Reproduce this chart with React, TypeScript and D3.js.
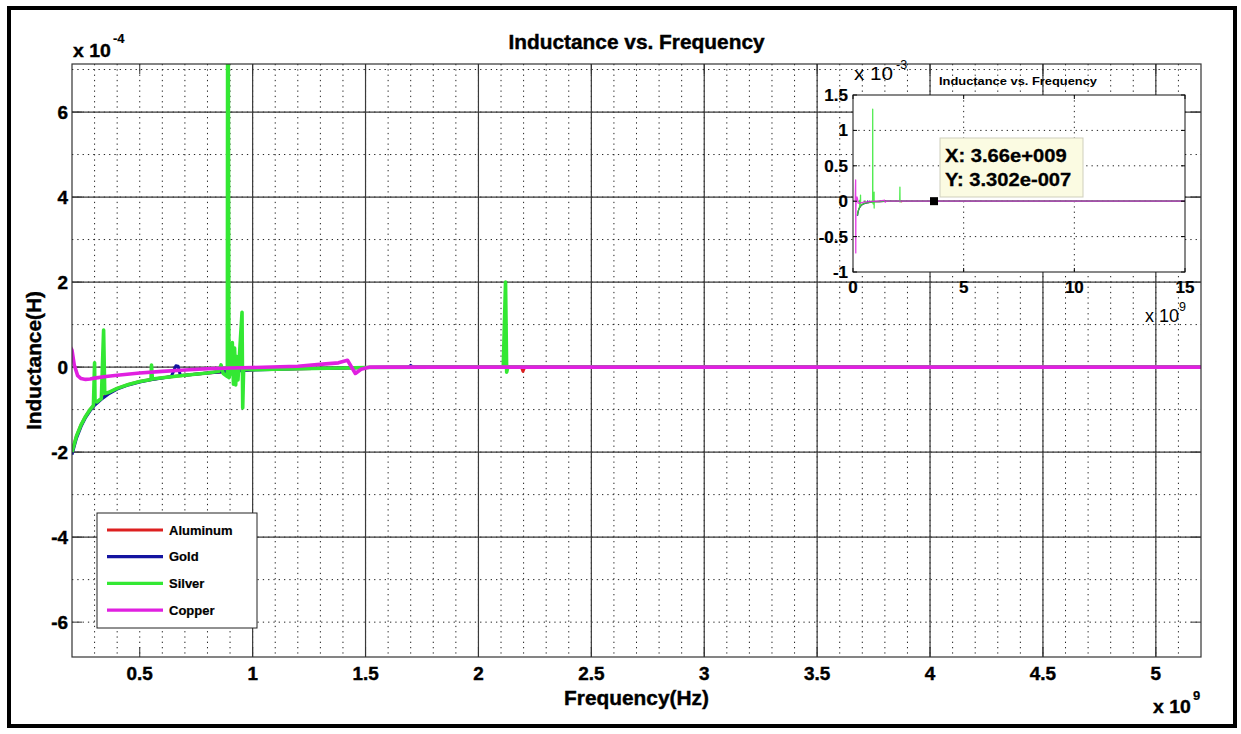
import React from 'react';
import * as d3 from 'd3';

// ---------- data (frequency in units of 1e9 Hz, inductance in units of 1e-4 H) ----------
const aluminumF = [0.2, 0.22, 0.24, 0.26, 0.28, 0.3, 0.33, 0.36, 0.4, 0.45, 0.5, 0.55, 0.6, 0.7, 0.8, 0.9, 1.0, 1.2, 1.4, 1.5, 1.8, 2.19, 2.197, 2.205, 3.0, 5.2, 15];
const aluminumL = [-2.0, -1.62, -1.36, -1.16, -1.0, -0.88, -0.74, -0.62, -0.5, -0.41, -0.34, -0.29, -0.25, -0.19, -0.14, -0.1, -0.06, -0.04, -0.02, -0.01, 0.0, 0.0, -0.1, 0.0, 0.0, 0.0, 0.0];

const goldF = [0.2, 0.22, 0.24, 0.26, 0.28, 0.3, 0.33, 0.36, 0.4, 0.45, 0.5, 0.55, 0.6, 0.64, 0.66, 0.67, 0.68, 0.7, 0.8, 0.9, 1.0, 1.2, 1.4, 1.5, 1.69, 1.7, 1.71, 5.2, 15];
const goldL = [-2.06, -1.67, -1.4, -1.19, -1.03, -0.9, -0.76, -0.64, -0.52, -0.42, -0.35, -0.3, -0.26, -0.22, 0.03, 0.02, -0.2, -0.19, -0.14, -0.1, -0.07, -0.04, -0.02, -0.01, 0.0, 0.04, 0.0, 0.0, 0.0];

const silverF = [0.2, 0.22, 0.24, 0.26, 0.28, 0.295, 0.3, 0.302, 0.31, 0.33, 0.34, 0.345, 0.36, 0.4, 0.45, 0.5, 0.55, 0.552, 0.556, 0.6, 0.7, 0.8, 0.85, 0.86, 0.87, 0.888, 0.89, 0.895, 0.905, 0.91, 0.915, 0.92, 0.925, 0.93, 0.935, 0.953, 0.956, 0.96, 1.0, 1.2, 1.4, 1.5, 1.8, 2.11, 2.12, 2.125, 2.13, 3.0, 5.2, 15];
const silverL = [-2.0, -1.62, -1.36, -1.16, -1.0, -0.9, 0.1, -0.8, -0.82, -0.74, 0.87, -0.62, -0.6, -0.5, -0.41, -0.34, -0.29, 0.05, -0.28, -0.25, -0.19, -0.14, -0.1, 0.05, -0.15, -0.22, 13.0, -0.25, -0.05, 0.58, -0.4, 0.45, -0.42, 0.25, -0.3, 1.29, -0.96, -0.05, -0.06, -0.04, -0.02, -0.01, 0.0, 0.0, 2.0, -0.12, 0.0, 0.0, 0.0, 0.0];

const copperF = [0.1, 0.12, 0.125, 0.13, 0.15, 0.18, 0.2, 0.21, 0.225, 0.24, 0.26, 0.28, 0.3, 0.35, 0.4, 0.5, 0.6, 0.7, 0.8, 0.9, 1.0, 1.2, 1.31, 1.38, 1.42, 1.455, 1.48, 1.52, 2.0, 5.2, 15];
const copperL = [0.0, 3.0, -7.3, -1.0, 0.5, 0.6, 0.4, 0.05, -0.2, -0.27, -0.29, -0.28, -0.26, -0.22, -0.19, -0.14, -0.1, -0.07, -0.04, -0.02, -0.01, 0.02, 0.07, 0.1, 0.16, -0.15, -0.05, 0.0, 0.0, 0.0, 0.0];

const legendLabels = ['Aluminum', 'Gold', 'Silver', 'Copper'];
const seriesColors = ['#dd2020', '#1414a0', '#33e833', '#e020e0'];

const mainXTicks = [0.5, 1, 1.5, 2, 2.5, 3, 3.5, 4, 4.5, 5];
const mainYTicks = [-6, -4, -2, 0, 2, 4, 6];
const insetXTicks = [0, 5, 10, 15];
const insetYTicks = [-1, -0.5, 0, 0.5, 1, 1.5]; // x 1e-3
const tipX = 3.66; // x 1e9
const tipY = 0.003302; // x 1e-4  (3.302e-7 H)
const tipLines = ['X: 3.66e+009', 'Y: 3.302e-007'];

const FONT = "'Liberation Sans', Arial, Helvetica, sans-serif";

type TP = { x: number; y: number; size: number; weight?: string; anchor?: string; sx?: number; rotate?: number; heavy?: number; children: React.ReactNode };
function T({ x, y, size, weight = 'bold', anchor = 'middle', sx = 1, rotate = 0, heavy = 0, children }: TP) {
  return (
    <text transform={`translate(${x},${y}) rotate(${rotate}) scale(${sx},1)`} fontSize={size} fontWeight={weight}
      textAnchor={anchor} fontFamily={FONT} fill="#000" stroke={heavy ? '#000' : 'none'} strokeWidth={heavy}>{children}</text>
  );
}

export default function App() {
  const series = [
    { name: legendLabels[0], color: seriesColors[0], w: 3, f: aluminumF, l: aluminumL },
    { name: legendLabels[1], color: seriesColors[1], w: 3, f: goldF, l: goldL },
    { name: legendLabels[2], color: seriesColors[2], w: 3.6, f: silverF, l: silverL },
    { name: legendLabels[3], color: seriesColors[3], w: 3.6, f: copperF, l: copperL },
  ];

  // main axes
  const L = 72, R = 1201, TOP = 64, B = 657;
  const xM = d3.scaleLinear().domain([0.2, 5.2]).range([L, R]);
  const yM = d3.scaleLinear().domain([-6.82, 7.13]).range([B, TOP]);
  const minorX = d3.range(3, 52).map(i => i / 10);
  const minorY = d3.range(-6, 8);
  const solidX = mainXTicks.filter(v => v >= 1);
  const solidY = mainYTicks.filter(v => v > -6);

  // inset axes
  const iL = 853, iR = 1185, iT = 95, iB = 272;
  const xI = d3.scaleLinear().domain([0, 15]).range([iL, iR]);
  const yI = d3.scaleLinear().domain([-10, 15]).range([iB, iT]);

  const pathFor = (s: typeof series[0], xs: d3.ScaleLinear<number, number>, ys: d3.ScaleLinear<number, number>) =>
    d3.line<number>().x((_, i) => xs(s.f[i])).y((_, i) => ys(s.l[i]))(s.f) || '';

  const dot = '1.3,4';

  return (
    <svg width={1241} height={734} style={{ position: 'absolute', left: 0, top: 0, background: '#fff' }}>
      <defs>
        <clipPath id="cm"><rect x={L} y={TOP} width={R - L} height={B - TOP} /></clipPath>
        <clipPath id="ci"><rect x={iL} y={iT} width={iR - iL} height={iB - iT} /></clipPath>
      </defs>
      <rect x={0} y={0} width={1241} height={734} fill="#fff" />

      {/* main grid */}
      <g>
        {minorX.map(v => <line key={'mx' + v} x1={xM(v)} x2={xM(v)} y1={TOP} y2={B} stroke="#222" strokeWidth={1} strokeDasharray={dot} />)}
        {minorY.map(v => <line key={'my' + v} y1={yM(v)} y2={yM(v)} x1={L} x2={R} stroke="#222" strokeWidth={1} strokeDasharray={dot} />)}
        {solidX.map(v => <line key={'sx' + v} x1={xM(v)} x2={xM(v)} y1={TOP} y2={B} stroke="#3a3a3a" strokeWidth={1.2} />)}
        {solidY.map(v => <line key={'sy' + v} y1={yM(v)} y2={yM(v)} x1={L} x2={R} stroke="#3a3a3a" strokeWidth={1.2} />)}
        {mainXTicks.map(v => (
          <g key={'tx' + v}>
            <line x1={xM(v)} x2={xM(v)} y1={B} y2={B - 10} stroke="#333" />
            <line x1={xM(v)} x2={xM(v)} y1={TOP} y2={TOP + 10} stroke="#333" />
          </g>
        ))}
        {mainYTicks.map(v => (
          <g key={'ty' + v}>
            <line y1={yM(v)} y2={yM(v)} x1={L} x2={L + 10} stroke="#333" />
            <line y1={yM(v)} y2={yM(v)} x1={R} x2={R - 10} stroke="#333" />
          </g>
        ))}
      </g>

      {/* main series */}
      <g clipPath="url(#cm)">
        {series.map(s => (
          <path key={s.name} d={pathFor(s, xM, yM)} fill="none" stroke={s.color} strokeWidth={s.w} strokeLinejoin="round" />
        ))}
      </g>
      <rect x={L} y={TOP} width={R - L} height={B - TOP} fill="none" stroke="#333" strokeWidth={1.2} />

      {/* main tick labels */}
      {mainXTicks.map(v => <T key={'lx' + v} x={xM(v)} y={680} size={18} sx={1.05} heavy={0.4}>{String(v)}</T>)}
      {mainYTicks.map(v => <T key={'ly' + v} x={68} y={yM(v) + 6.5} size={18} sx={1.05} anchor="end" heavy={0.4}>{String(v)}</T>)}
      <T x={73} y={57} size={18.5} anchor="start" sx={1.05} heavy={0.4}>x 10</T>
      <T x={113} y={43} size={13} anchor="start" heavy={0.2}>-4</T>
      <T x={1153} y={713} size={18.5} anchor="start" sx={1.05} heavy={0.4}>x 10</T>
      <T x={1193} y={700} size={13} anchor="start" heavy={0.2}>9</T>

      <T x={636.5} y={49} size={19.5} sx={1.07} heavy={0.4}>Inductance vs. Frequency</T>
      <T x={636.5} y={705} size={19.5} sx={1.07} heavy={0.4}>Frequency(Hz)</T>
      <T x={41} y={360.5} size={19.5} sx={1.07} rotate={-90} heavy={0.4}>Inductance(H)</T>

      {/* legend */}
      <g>
        <rect x={97} y={513} width={160} height={115} fill="#fff" stroke="#222" strokeWidth={1} />
        {series.map((s, i) => (
          <g key={'lg' + s.name}>
            <line x1={107} x2={163} y1={530 + i * 26.7} y2={530 + i * 26.7} stroke={s.color} strokeWidth={3.2} />
            <T x={169} y={530 + i * 26.7 + 4.5} size={13} anchor="start" heavy={0.2}>{s.name}</T>
          </g>
        ))}
      </g>

      {/* inset */}
      <g>
        <rect x={iL} y={iT} width={iR - iL} height={iB - iT} fill="#fff" />
        {insetXTicks.filter(v => v > 0 && v < 15).map(v => <line key={'ix' + v} x1={xI(v)} x2={xI(v)} y1={iT} y2={iB} stroke="#222" strokeDasharray={dot} />)}
        {insetYTicks.filter(v => v > -1 && v < 1.5).map(v => <line key={'iy' + v} y1={yI(v * 10)} y2={yI(v * 10)} x1={iL} x2={iR} stroke="#222" strokeDasharray={dot} />)}
        <g clipPath="url(#ci)">
          {series.map(s => (
            <path key={'i' + s.name} d={pathFor(s, xI, yI)} fill="none" stroke={s.color} strokeWidth={1.3} strokeLinejoin="round" opacity={0.85} />
          ))}
        </g>
        {insetXTicks.map(v => (
          <g key={'itx' + v}>
            <line x1={xI(v)} x2={xI(v)} y1={iB} y2={iB - 4} stroke="#000" />
            <line x1={xI(v)} x2={xI(v)} y1={iT} y2={iT + 4} stroke="#000" />
          </g>
        ))}
        {insetYTicks.map(v => (
          <g key={'ity' + v}>
            <line y1={yI(v * 10)} y2={yI(v * 10)} x1={iL} x2={iL + 4} stroke="#000" />
            <line y1={yI(v * 10)} y2={yI(v * 10)} x1={iR} x2={iR - 4} stroke="#000" />
          </g>
        ))}
        <rect x={iL} y={iT} width={iR - iL} height={iB - iT} fill="none" stroke="#111" strokeWidth={1} />
        {insetXTicks.map(v => <T key={'ilx' + v} x={xI(v)} y={293} size={17} heavy={0.2}>{String(v)}</T>)}
        {insetYTicks.map(v => <T key={'ily' + v} x={848} y={yI(v * 10) + 6} size={17} anchor="end" heavy={0.2}>{String(v)}</T>)}
        <T x={854} y={80} size={18} weight="normal" anchor="start" sx={1.15}>x 10</T>
        <T x={896} y={69} size={12.5} weight="normal" anchor="start">-3</T>
        <T x={1145} y={322} size={18} weight="normal" anchor="start">x 10</T>
        <T x={1179} y={311} size={12.5} weight="normal" anchor="start">9</T>
        <T x={1018} y={85} size={11.5} sx={1.12}>Inductance vs. Frequency</T>

        {/* data tip */}
        <rect x={xI(tipX) - 4} y={yI(tipY) - 4} width={8} height={8} fill="#000" />
        <rect x={940} y={138} width={143} height={59} fill="#fbfbe2" stroke="#cfcfbd" strokeWidth={1} />
        <T x={945} y={162} size={18} anchor="start" sx={1.12} heavy={0.3}>{tipLines[0]}</T>
        <T x={945} y={186} size={18} anchor="start" sx={1.12} heavy={0.3}>{tipLines[1]}</T>
      </g>

      {/* outer frame */}
      <rect x={9} y={8} width={1226} height={718} fill="none" stroke="#000" strokeWidth={4} />
    </svg>
  );
}
